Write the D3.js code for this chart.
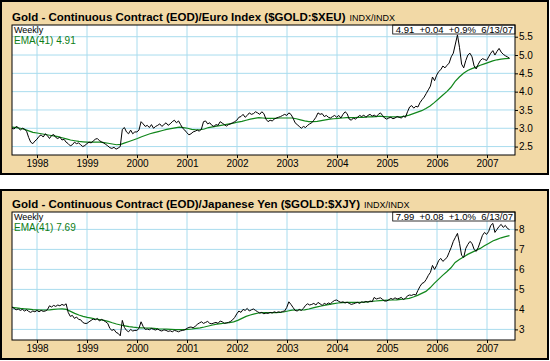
<!DOCTYPE html>
<html>
<head>
<meta charset="utf-8">
<script src="https://cdnjs.cloudflare.com/ajax/libs/d3/7.8.5/d3.min.js"></script>
<style>
  body { margin: 0; background: #fff; }
  svg { display: block; font-family: Arial, "Liberation Sans", sans-serif; }
  .grid line { stroke: #a9dcee; stroke-width: 1; }
  .axis text { font-size: 10px; fill: #000; }
  .axis path { display: none; }
</style>
</head>
<body>
<svg id="chart" width="550" height="361"></svg>
<script>
// weekly data spread between these two dates (decimal years)
var firstDate = 1997.5, lastDate = 2007.45;
var years = [1998, 1999, 2000, 2001, 2002, 2003, 2004, 2005, 2006, 2007];

// Gold / Euro, twice a month
var xeuPrice = [
  3.00, 2.98, 3.05, 3.02, 2.95, 3.00, 2.98, 2.92, 2.75, 2.62, 2.58, 2.65,
  2.70, 2.78, 2.82, 2.76, 2.85, 2.80, 2.72, 2.80, 2.83, 2.75, 2.72, 2.76, 2.68, 2.70, 2.62, 2.58, 2.52, 2.55, 2.62, 2.58, 2.60, 2.55, 2.50, 2.53,
  2.58, 2.62, 2.60, 2.65, 2.70, 2.72, 2.66, 2.63, 2.60, 2.56, 2.52, 2.47, 2.45, 2.48, 2.43, 2.46, 2.50, 2.97, 3.02, 2.90, 2.85, 2.95, 2.85, 2.90,
  2.90, 2.95, 3.18, 3.12, 3.05, 3.08, 3.02, 3.10, 3.00, 3.05, 3.08, 3.12, 3.05, 3.10, 3.15, 3.08, 3.12, 3.18, 3.22, 3.15, 3.20, 3.10, 3.00, 2.95,
  2.88, 2.82, 2.85, 2.90, 2.92, 2.95, 2.92, 2.98, 3.18, 3.20, 3.12, 3.15, 3.08, 3.05, 3.10, 3.08, 3.18, 3.14, 3.10, 3.06, 3.10, 3.12, 3.15, 3.18,
  3.22, 3.30, 3.32, 3.38, 3.30, 3.35, 3.42, 3.38, 3.40, 3.45, 3.42, 3.38, 3.45, 3.40, 3.25, 3.18, 3.22, 3.20, 3.25, 3.28, 3.30, 3.32, 3.35, 3.38,
  3.35, 3.42, 3.38, 3.28, 3.15, 3.10, 3.05, 3.00, 3.05, 3.02, 3.08, 3.12, 3.15, 3.22, 3.30, 3.42, 3.38, 3.40, 3.32, 3.35, 3.30, 3.28, 3.32, 3.35,
  3.30, 3.35, 3.28, 3.38, 3.45, 3.40, 3.25, 3.22, 3.28, 3.25, 3.30, 3.35, 3.32, 3.36, 3.30, 3.35, 3.38, 3.33, 3.36, 3.32, 3.38, 3.42, 3.35, 3.28,
  3.25, 3.28, 3.30, 3.26, 3.28, 3.32, 3.30, 3.28, 3.33, 3.30, 3.45, 3.58, 3.62, 3.55, 3.60, 3.58, 3.70, 3.78, 3.85, 3.95, 4.05, 4.15, 4.40, 4.30,
  4.45, 4.55, 4.60, 4.70, 4.65, 4.72, 4.78, 4.95, 5.05, 5.30, 5.55, 5.20, 4.75, 4.65, 4.85, 5.00, 5.05, 4.95, 4.70, 4.62, 4.75, 4.85, 4.90, 4.88,
  4.85, 4.95, 5.05, 5.12, 5.00, 5.10, 5.18, 5.08, 5.02, 4.98, 4.95, 4.91
];
// EMA(41), monthly readings
var xeuEma = [
  3.03, 3.02, 3.00, 2.97, 2.93, 2.89,
  2.87, 2.85, 2.83, 2.81, 2.79, 2.77, 2.74, 2.71, 2.68, 2.66, 2.64, 2.63,
  2.62, 2.62, 2.62, 2.62, 2.61, 2.59, 2.57, 2.55, 2.56, 2.60, 2.64, 2.68,
  2.72, 2.77, 2.81, 2.85, 2.88, 2.91, 2.94, 2.97, 2.99, 3.01, 3.03, 3.02,
  3.00, 2.97, 2.96, 2.96, 2.98, 3.02, 3.04, 3.06, 3.08, 3.10, 3.12, 3.14,
  3.17, 3.19, 3.22, 3.25, 3.27, 3.29, 3.28, 3.27, 3.27, 3.27, 3.28, 3.28,
  3.28, 3.28, 3.26, 3.23, 3.20, 3.18, 3.18, 3.19, 3.21, 3.23, 3.25, 3.26,
  3.27, 3.28, 3.29, 3.29, 3.29, 3.30, 3.30, 3.31, 3.31, 3.32, 3.33, 3.32,
  3.31, 3.31, 3.31, 3.31, 3.33, 3.36, 3.40, 3.44, 3.48, 3.54, 3.61, 3.70,
  3.80, 3.90, 4.00, 4.12, 4.28, 4.40, 4.50, 4.58, 4.63, 4.67, 4.72, 4.76,
  4.80, 4.84, 4.87, 4.89, 4.90, 4.91
];
var xeuTicks = [2.5, 3.0, 3.5, 4.0, 4.5, 5.0, 5.5];

// Gold / Yen, twice a month
var xjyPrice = [
  4.12, 4.05, 3.98, 4.02, 3.95, 4.00, 3.92, 3.98, 3.90, 3.85, 3.92, 3.88,
  3.95, 3.88, 3.95, 3.90, 3.92, 3.98, 4.18, 4.12, 4.20, 4.15, 4.22, 4.18, 4.25, 4.20, 4.28, 3.85, 3.65, 3.70, 3.55, 3.62, 3.50, 3.48, 3.35, 3.30,
  3.30, 3.38, 3.45, 3.52, 3.48, 3.55, 3.42, 3.50, 3.45, 3.38, 3.30, 3.05, 2.95, 3.00, 2.85, 2.80, 2.68, 3.45, 3.10, 2.95, 2.88, 3.00, 2.92, 2.95,
  2.95, 3.05, 3.38, 3.15, 3.00, 3.02, 2.98, 3.05, 3.00, 2.97, 3.02, 2.95, 2.92, 2.98, 2.95, 2.90, 2.93, 2.88, 2.95, 2.92, 2.88, 2.93, 2.95, 2.98,
  3.05, 3.10, 3.12, 3.08, 3.15, 3.25, 3.32, 3.38, 3.30, 3.35, 3.40, 3.30, 3.28, 3.32, 3.35, 3.30, 3.42, 3.38, 3.30, 3.32, 3.35, 3.40, 3.48, 3.60,
  3.78, 3.92, 3.85, 4.00, 3.95, 4.05, 3.92, 3.98, 4.02, 3.95, 3.88, 3.82, 3.85, 3.78, 3.82, 3.80, 3.85, 3.82, 3.88, 3.84, 3.88, 3.85, 3.90, 3.92,
  4.10, 4.38, 4.25, 4.10, 3.95, 3.92, 4.00, 3.95, 4.05, 4.20, 4.28, 4.22, 4.25, 4.30, 4.22, 4.35, 4.28, 4.20, 4.30, 4.25, 4.32, 4.28, 4.38, 4.45,
  4.47, 4.40, 4.35, 4.38, 4.32, 4.36, 4.30, 4.25, 4.28, 4.32, 4.35, 4.30, 4.38, 4.35, 4.40, 4.36, 4.42, 4.38, 4.60, 4.52, 4.55, 4.58, 4.50, 4.42,
  4.42, 4.48, 4.55, 4.50, 4.58, 4.52, 4.55, 4.60, 4.50, 4.55, 4.68, 4.72, 4.70, 4.75, 4.72, 4.95, 5.15, 5.30, 5.35, 5.50, 5.70, 5.85, 6.20, 6.00,
  6.20, 6.45, 6.55, 6.40, 6.50, 6.60, 6.85, 7.10, 7.40, 7.60, 7.80, 7.30, 6.70, 6.60, 7.05, 7.25, 7.40, 7.30, 7.00, 6.90, 7.10, 7.40, 7.70, 7.85,
  7.75, 7.90, 8.20, 8.30, 7.85, 8.00, 8.15, 8.25, 8.10, 8.20, 8.05, 7.99
];
var xjyEma = [
  4.10, 4.08, 4.05, 4.03, 4.01, 3.99,
  3.98, 3.97, 3.97, 3.98, 4.00, 4.02, 4.03, 4.00, 3.90, 3.80, 3.72, 3.65,
  3.60, 3.56, 3.52, 3.49, 3.45, 3.40, 3.33, 3.27, 3.22, 3.18, 3.14, 3.11,
  3.09, 3.08, 3.07, 3.06, 3.05, 3.03, 3.02, 3.01, 3.00, 2.99, 2.99, 2.99,
  3.00, 3.02, 3.05, 3.08, 3.12, 3.17, 3.22, 3.26, 3.29, 3.32, 3.34, 3.38,
  3.45, 3.55, 3.65, 3.72, 3.78, 3.82, 3.84, 3.84, 3.84, 3.84, 3.85, 3.87,
  3.92, 3.96, 3.97, 3.97, 3.98, 4.02, 4.08, 4.13, 4.17, 4.21, 4.25, 4.29,
  4.32, 4.34, 4.35, 4.35, 4.35, 4.35, 4.36, 4.38, 4.40, 4.42, 4.44, 4.45,
  4.46, 4.47, 4.48, 4.50, 4.52, 4.55, 4.62, 4.70, 4.80, 4.90, 5.08, 5.30,
  5.50, 5.70, 5.88, 6.08, 6.35, 6.50, 6.62, 6.75, 6.85, 6.95, 7.05, 7.18,
  7.30, 7.42, 7.50, 7.58, 7.64, 7.69
];
var xjyTicks = [3, 4, 5, 6, 7, 8];

var panels = [
  { title: "Gold - Continuous Contract (EOD)/Euro Index ($GOLD:$XEU)", sub: "INDX/INDX",
    info: "4.91  +0.04  +0.9%  6/13/07", emaLabel: "EMA(41) 4.91",
    price: xeuPrice, ema: xeuEma, ticks: xeuTicks, fmt: d3.format(".1f"),
    box: [1, 1, 547, 173], plot: [12, 25, 515, 155], domain: [2.27, 5.82] },
  { title: "Gold - Continuous Contract (EOD)/Japanese Yen ($GOLD:$XJY)", sub: "INDX/INDX",
    info: "7.99  +0.08  +1.0%  6/13/07", emaLabel: "EMA(41) 7.69",
    price: xjyPrice, ema: xjyEma, ticks: xjyTicks, fmt: d3.format("d"),
    box: [1, 190, 547, 169], plot: [12, 212, 515, 340], domain: [2.47, 8.87] }
];

var svg = d3.select("#chart");

panels.forEach(function(p) { drawPanel(p); });

function spread(values) {
  var step = (lastDate - firstDate) / (values.length - 1);
  return values.map(function(v, i) { return { t: firstDate + i * step, v: v }; });
}

function drawPanel(p) {
  var left = p.plot[0], top = p.plot[1], right = p.plot[2], bottom = p.plot[3];

  var x = d3.scaleLinear()
    .domain([firstDate, firstDate + (right - left) / 50])
    .range([left, right]);
  var y = d3.scaleLinear()
    .domain(p.domain)
    .range([bottom, top]);

  var g = svg.append("g");

  g.append("rect")
    .attr("x", p.box[0]).attr("y", p.box[1])
    .attr("width", p.box[2]).attr("height", p.box[3])
    .attr("fill", "#f2d9a6")
    .attr("stroke", "#000")
    .attr("stroke-width", 2);

  var title = g.append("text")
    .attr("x", left)
    .attr("y", top - 4)
    .style("font-size", "11.5px")
    .style("font-weight", "bold")
    .text(p.title);
  var tw = title.node().getComputedTextLength();
  g.append("text")
    .attr("x", left + tw + 4)
    .attr("y", top - 4)
    .style("font-size", "9px")
    .text(p.sub);

  g.append("rect")
    .attr("x", left).attr("y", top)
    .attr("width", right - left).attr("height", bottom - top)
    .attr("fill", "#fff");

  // gridlines
  var grid = g.append("g").attr("class", "grid");
  grid.selectAll(".gx")
    .data(years)
    .enter().append("line")
      .attr("x1", function(d) { return x(d); })
      .attr("x2", function(d) { return x(d); })
      .attr("y1", top).attr("y2", bottom);
  grid.selectAll(".gy")
    .data(p.ticks)
    .enter().append("line")
      .attr("x1", left).attr("x2", right)
      .attr("y1", function(d) { return y(d); })
      .attr("y2", function(d) { return y(d); });

  var line = d3.line()
    .x(function(d) { return x(d.t); })
    .y(function(d) { return y(d.v); });

  g.append("path")
    .datum(spread(p.ema))
    .attr("fill", "none")
    .attr("stroke", "#11861b")
    .attr("stroke-width", 1.2)
    .attr("d", line);
  g.append("path")
    .datum(spread(p.price))
    .attr("fill", "none")
    .attr("stroke", "#000")
    .attr("stroke-width", 1)
    .attr("d", line);

  // info box top right
  var info = g.append("text")
    .attr("x", right - 2)
    .attr("y", top + 8)
    .attr("text-anchor", "end")
    .style("font-size", "9.5px")
    .style("white-space", "pre")
    .text(p.info);
  var iw = info.node().getComputedTextLength();
  g.insert("rect", "text:last-child")
    .attr("x", right - iw - 5).attr("y", top)
    .attr("width", iw + 5).attr("height", 9)
    .attr("fill", "#fff")
    .attr("stroke", "#000")
    .attr("stroke-width", 0.8);
  info.raise();

  g.append("text")
    .attr("x", left + 2)
    .attr("y", top + 8)
    .style("font-size", "9px")
    .text("Weekly");
  g.append("text")
    .attr("x", left + 2)
    .attr("y", top + 19)
    .style("font-size", "10px")
    .attr("fill", "#0f7d16")
    .text(p.emaLabel);

  g.append("rect")
    .attr("x", left).attr("y", top)
    .attr("width", right - left).attr("height", bottom - top)
    .attr("fill", "none")
    .attr("stroke", "#000")
    .attr("stroke-width", 1);

  var yAxis = d3.axisRight(y)
    .tickValues(p.ticks)
    .tickSize(3)
    .tickPadding(1)
    .tickFormat(p.fmt);
  g.append("g")
    .attr("class", "axis")
    .attr("transform", "translate(" + right + ",0)")
    .call(yAxis);

  var xAxis = d3.axisBottom(x)
    .tickValues(years)
    .tickSize(3)
    .tickPadding(2)
    .tickFormat(d3.format("d"));
  g.append("g")
    .attr("class", "axis")
    .attr("transform", "translate(0," + bottom + ")")
    .call(xAxis);
}
</script>
</body>
</html>
